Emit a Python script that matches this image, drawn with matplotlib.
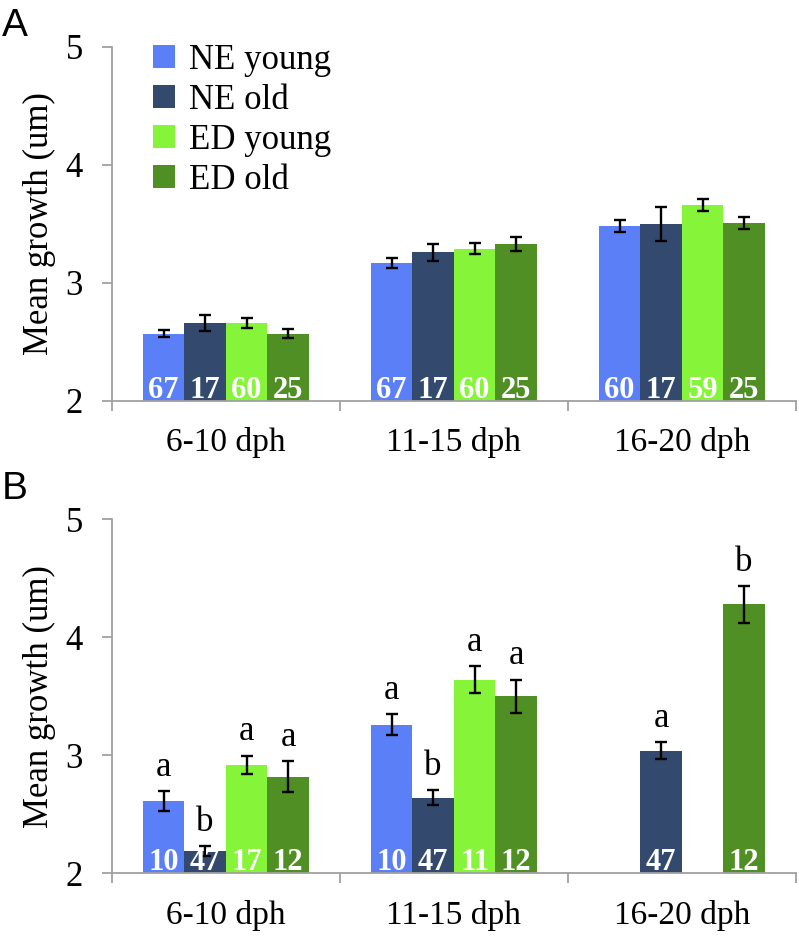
import numpy as np
import matplotlib
matplotlib.use('Agg')
import matplotlib.pyplot as plt
from matplotlib.patches import Patch

plt.rcParams['font.family'] = ['Liberation Serif', 'DejaVu Serif']

# ---- data ----
ages = ['6-10 dph', '11-15 dph', '16-20 dph']
groups = ['NE young', 'NE old', 'ED young', 'ED old']
colors = ['#5b7ff7', '#334a6e', '#86f53a', '#4f8f24']
yticks = [2, 3, 4, 5]

# panel A
a_mean = {
    'NE young': [2.57, 3.17, 3.48],
    'NE old':   [2.66, 3.26, 3.50],
    'ED young': [2.66, 3.29, 3.66],
    'ED old':   [2.57, 3.33, 3.51],
}
a_err = {
    'NE young': [0.03, 0.045, 0.05],
    'NE old':   [0.07, 0.07, 0.145],
    'ED young': [0.04, 0.045, 0.05],
    'ED old':   [0.04, 0.06, 0.05],
}
a_n = {
    'NE young': [67, 67, 60],
    'NE old':   [17, 17, 17],
    'ED young': [60, 60, 59],
    'ED old':   [25, 25, 25],
}

# panel B
nan = np.nan
b_mean = {
    'NE young': [2.61, 3.26, nan],
    'NE old':   [2.19, 2.64, 3.04],
    'ED young': [2.92, 3.64, nan],
    'ED old':   [2.82, 3.50, 4.28],
}
b_err = {
    'NE young': [0.085, 0.088, nan],
    'NE old':   [0.04, 0.064, 0.07],
    'ED young': [0.078, 0.114, nan],
    'ED old':   [0.13, 0.14, 0.155],
}
b_n = {
    'NE young': [10, 10, None],
    'NE old':   [47, 47, 47],
    'ED young': [17, 11, None],
    'ED old':   [12, 12, 12],
}
b_letters = {
    'NE young': ['a', 'a', None],
    'NE old':   ['b', 'b', 'a'],
    'ED young': ['a', 'a', None],
    'ED old':   ['a', 'a', 'b'],
}

GREY = '#a0a0a0'
W = 0.182


def draw_panel(ax, means, errs, ns, letters=None):
    x = np.arange(len(ages))
    for i, g in enumerate(groups):
        xs = x + (i - 1.5) * W
        m = np.array(means[g], dtype=float)
        e = np.array(errs[g], dtype=float)
        ax.bar(xs, m - 2, bottom=2, width=W, color=colors[i], linewidth=0, zorder=2)
        ax.errorbar(xs, m, yerr=e, fmt='none', ecolor='black', elinewidth=1.7,
                    capsize=4.5, capthick=1.7, zorder=3)
        for j in range(len(ages)):
            if ns[g][j] is not None:
                ax.text(xs[j], 2.025, str(ns[g][j]), ha='center', va='baseline',
                        color='white', fontsize=22, fontweight='bold', zorder=4)
            if letters is not None and letters[g][j] is not None:
                ax.annotate(letters[g][j], (xs[j], m[j] + e[j]), xytext=(0, 11),
                            textcoords='offset points', ha='center', va='baseline',
                            fontsize=25)

    ax.set_xlim(-0.5, 2.5)
    ax.set_ylim(2, 5)
    ax.set_yticks(yticks)
    ax.set_yticklabels([str(t) for t in yticks], fontfamily='Liberation Serif', fontsize=25)
    ax.set_xticks(x)
    ax.set_xticklabels(ages, fontfamily='Liberation Serif', fontsize=24)
    ax.set_xticks([-0.5, 0.5, 1.5, 2.5], minor=True)
    ax.tick_params(axis='x', which='major', length=0, pad=19)
    ax.tick_params(axis='x', which='minor', length=7, width=1.3, color=GREY, direction='out')
    ax.tick_params(axis='y', length=7, width=1.3, color=GREY, pad=14)
    for s in ['top', 'right']:
        ax.spines[s].set_visible(False)
    for s in ['left', 'bottom']:
        ax.spines[s].set_color(GREY)
        ax.spines[s].set_linewidth(1.3)
    ax.set_ylabel('Mean growth (um)', fontsize=25)
    ax.yaxis.set_label_coords(-0.082, 0.5)


fig = plt.figure(figsize=(7.99, 9.39), dpi=100)
axA = fig.add_axes([0.140, 0.573, 0.856, 0.377])
axB = fig.add_axes([0.140, 0.070, 0.856, 0.377])

draw_panel(axA, a_mean, a_err, a_n)
draw_panel(axB, b_mean, b_err, b_n, b_letters)

handles = [Patch(facecolor=c, edgecolor='none', label=g) for c, g in zip(colors, groups)]
axA.legend(handles=handles, loc='upper left', bbox_to_anchor=(0.06, 1.008), frameon=False,
           fontsize=25, handlelength=0.64, handleheight=0.64, handletextpad=0.4,
           labelspacing=0.2, borderpad=0, borderaxespad=0)

fig.text(0.002, 0.991, 'A', family='Liberation Sans', fontsize=28, va='top', ha='left')
fig.text(0.002, 0.498, 'B', family='Liberation Sans', fontsize=28, va='top', ha='left')

fig.savefig('out.png', dpi=100)
